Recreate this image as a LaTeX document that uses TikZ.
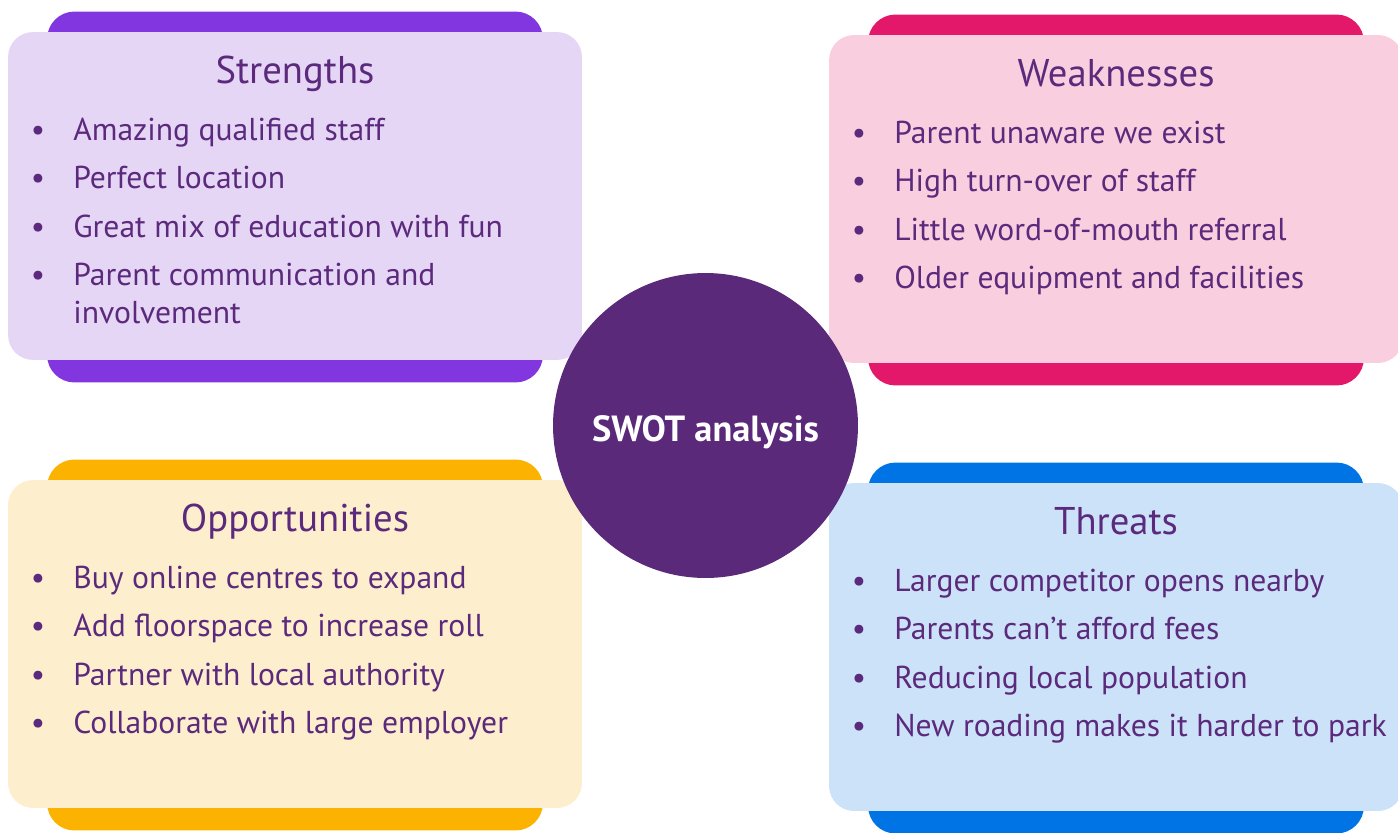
\documentclass[tikz,border=0pt]{standalone}
\usepackage{fontspec}
\setmainfont{PT Sans}
\usetikzlibrary{positioning}
\definecolor{ink}{HTML}{5B2A7C}
\definecolor{hubfill}{HTML}{5A2979}
\definecolor{barS}{HTML}{8236DF}
\definecolor{cardS}{HTML}{E6D6F6}
\definecolor{barW}{HTML}{E3186A}
\definecolor{cardW}{HTML}{F9CEDF}
\definecolor{barO}{HTML}{FBB201}
\definecolor{cardO}{HTML}{FDEECD}
\definecolor{barT}{HTML}{0073E5}
\definecolor{cardT}{HTML}{CCE2F8}
\tikzset{
		bar/.style={fill=#1, rounded corners=0.55cm, minimum width=9.92cm, minimum height=7.42cm, inner sep=0pt},
		card/.style={fill=#1, rounded corners=0.5cm, minimum width=11.48cm, minimum height=6.56cm, inner sep=0pt},
		heading/.style={text=ink, font=\fontsize{22}{26}\selectfont, anchor=base, inner sep=0pt},
		dot/.style={text=ink, font=\fontsize{18}{21.6}\selectfont, anchor=base, inner sep=0pt},
		entry/.style={text=ink, font=\fontsize{18}{21.6}\selectfont, anchor=base west, inner sep=0pt},
		hub/.style={circle, fill=hubfill, minimum size=6.1cm, inner sep=0pt, text=white, text height=23pt, text depth=4.6pt, font=\fontsize{20.7}{24}\selectfont\bfseries}
	}

\begin{document}
\begin{tikzpicture}[x=0.02cm, y=-0.02cm] % 1 unit = 1 px of the slide, y goes down
		\useasboundingbox (0,0) rectangle (1398,832);
		\foreach \cx/\cy/\q/\name/\items in {
			295/196/S/Strengths/{Amazing qualified staff, Perfect location, Great mix of education with fun, {Parent communication and\\involvement}},
			1116/199/W/Weaknesses/{Parent unaware we exist, High turn-over of staff, Little word-of-mouth referral, Older equipment and facilities},
			295/644/O/Opportunities/{Buy online centres to expand, Add floorspace to increase roll, Partner with local authority, Collaborate with large employer},
			1116/647/T/Threats/{Larger competitor opens nearby, Parents can’t afford fees, Reducing local population, New roading makes it harder to park}}{
			\node[bar=bar\q] (bar\q) at (\cx,\cy+1) {}; % coloured strip behind
			\node[card=card\q] (card\q) at (\cx,\cy) {};
			\node[heading] (head\q) at (\cx,\cy-113) {\name};
			\foreach \txt [count=\i] in \items {
				\node[dot] (dot\q\i) at (\cx-257,\cy-56+48.5*\i-48.5) {•};
				\node[entry] (item\q\i) at (\cx-222,\cy-56+48.5*\i-48.5) {\parbox[t]{10cm}{\raggedright\txt}}; % first line on the baseline
			}
		}
		\node[hub] (swot) at (705.5,425.5) {SWOT analysis};
	\end{tikzpicture}
\end{document}
